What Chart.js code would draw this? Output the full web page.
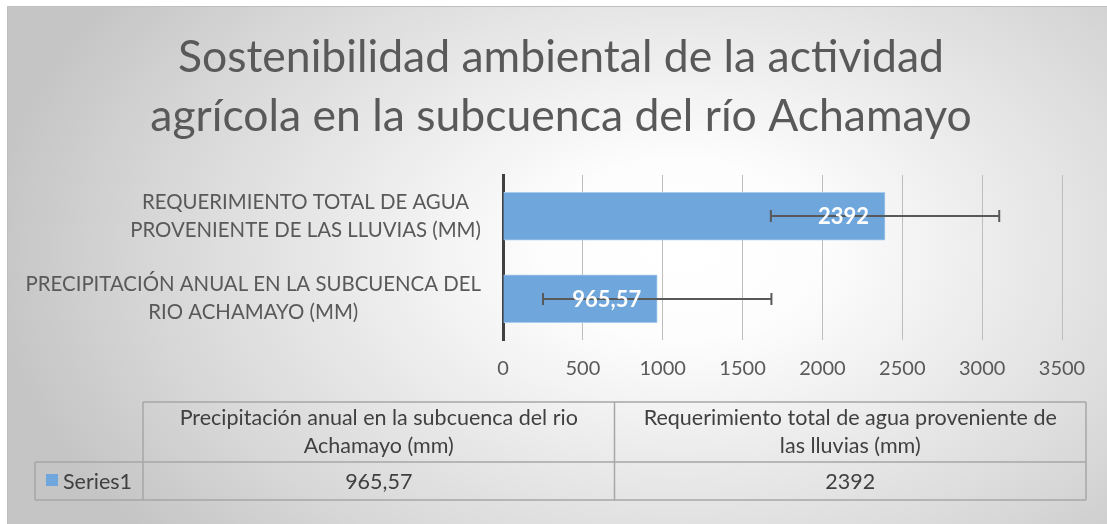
<!DOCTYPE html>
<html><head><meta charset="utf-8">
<script src="https://cdn.jsdelivr.net/npm/chart.js@4.4.1/dist/chart.umd.min.js"></script>
<style>html,body{margin:0;padding:0;background:#fff;overflow:hidden}#wrap{width:1107px;height:524px;position:relative}</style>
</head><body><div id="wrap"><canvas id="c" width="1107" height="524"></canvas></div>
<script>
const chartTitle = ['Sostenibilidad ambiental de la actividad', 'agrícola en la subcuenca del río Achamayo'];
const categories = ['Precipitación anual en la subcuenca del rio Achamayo (mm)', 'Requerimiento total de agua proveniente de las lluvias (mm)'];
const axisLabelLines = [['PRECIPITACIÓN ANUAL EN LA SUBCUENCA DEL', 'RIO ACHAMAYO (MM)'], ['REQUERIMIENTO TOTAL DE AGUA', 'PROVENIENTE DE LAS LLUVIAS (MM)']];
const tableHeaderLines = [['Precipitación anual en la subcuenca del rio', 'Achamayo (mm)'], ['Requerimiento total de agua proveniente de', 'las lluvias (mm)']];
const seriesName = 'Series1';
const values = [965.57, 2392];
const errorAmounts = [715, 715];
const xTicks = [0, 500, 1000, 1500, 2000, 2500, 3000, 3500];

const FONT = 'Lato';
const BAR_COLOR = '#6fa6dc';
const fmt = v => String(v).replace('.', ',');

const bgPlugin = {
  id: 'bg',
  beforeDraw(chart) {
    const ctx = chart.ctx, W = chart.width, H = chart.height;
    ctx.save();
    ctx.fillStyle = '#ffffff';
    ctx.fillRect(0, 0, W, H);
    ctx.save();
    ctx.translate(680, 250);
    ctx.scale(1, 0.65);
    const g = ctx.createRadialGradient(0, 0, 0, 0, 0, 690);
    g.addColorStop(0, '#ffffff');
    g.addColorStop(0.2, '#fdfdfd');
    g.addColorStop(0.75, '#d8d8d8');
    g.addColorStop(1, '#c5c5c5');
    ctx.fillStyle = g;
    ctx.fillRect(-700, -400, 1500, 1000);
    ctx.restore();
    ctx.fillStyle = '#ffffff';
    ctx.fillRect(0, 0, 7, H);
    ctx.fillRect(0, 0, W, 6);
    ctx.strokeStyle = '#bfbfbf';
    ctx.lineWidth = 1;
    ctx.beginPath();
    ctx.moveTo(7.5, H);
    ctx.lineTo(7.5, 6.5);
    ctx.lineTo(W, 6.5);
    ctx.stroke();
    ctx.restore();
  }
};

const titlePlugin = {
  id: 'titleText',
  afterDraw(chart) {
    const ctx = chart.ctx;
    ctx.save();
    ctx.font = '44.5px ' + FONT;
    ctx.fillStyle = '#595959';
    ctx.textAlign = 'center';
    ctx.textBaseline = 'middle';
    chartTitle.forEach((l, k) => ctx.fillText(l, 561, 58 + k * 59));
    ctx.restore();
  }
};

const axisLabelPlugin = {
  id: 'axisLabels',
  afterDraw(chart) {
    const ctx = chart.ctx, ys = chart.scales.y;
    ctx.save();
    ctx.font = '20.4px ' + FONT;
    ctx.fillStyle = '#595959';
    ctx.textAlign = 'center';
    ctx.textBaseline = 'middle';
    const lh = 28;
    const rightEdge = chart.chartArea.left - 22;
    axisLabelLines.forEach((lines, i) => {
      const cy = ys.getPixelForValue(i);
      const w = Math.max(...lines.map(l => ctx.measureText(l).width));
      const cx = rightEdge - w / 2;
      lines.forEach((l, k) => {
        ctx.fillText(l, cx, cy + (k - (lines.length - 1) / 2) * lh);
      });
    });
    ctx.restore();
  }
};

const errorLabelPlugin = {
  id: 'errLabels',
  afterDatasetsDraw(chart) {
    const ctx = chart.ctx, xs = chart.scales.x, ys = chart.scales.y;
    ctx.save();
    ctx.strokeStyle = '#595959';
    ctx.lineWidth = 2;
    values.forEach((v, i) => {
      const y = Math.round(ys.getPixelForValue(i));
      const x1 = xs.getPixelForValue(v - errorAmounts[i]);
      const x2 = xs.getPixelForValue(v + errorAmounts[i]);
      ctx.beginPath();
      ctx.moveTo(x1, y); ctx.lineTo(x2, y);
      ctx.moveTo(x1, y - 6); ctx.lineTo(x1, y + 6);
      ctx.moveTo(x2, y - 6); ctx.lineTo(x2, y + 6);
      ctx.stroke();
    });
    ctx.font = 'bold 22px ' + FONT;
    ctx.fillStyle = '#ffffff';
    ctx.textAlign = 'right';
    ctx.textBaseline = 'middle';
    values.forEach((v, i) => {
      const y = ys.getPixelForValue(i);
      const x = xs.getPixelForValue(v) - 16;
      ctx.fillText(fmt(v), x, y + 1);
    });
    ctx.restore();
  }
};

const tablePlugin = {
  id: 'dataTable',
  afterDraw(chart) {
    const ctx = chart.ctx;
    const top = 402, mid = 462, bot = 500;
    const rowHeadLeft = 35, left = 143, right = 1086;
    const n = categories.length;
    const colW = (right - left) / n;
    ctx.save();
    ctx.strokeStyle = '#a6a6a6';
    ctx.lineWidth = 1.5;
    ctx.beginPath();
    ctx.moveTo(left, top); ctx.lineTo(right, top);
    ctx.moveTo(rowHeadLeft, mid); ctx.lineTo(right, mid);
    ctx.moveTo(rowHeadLeft, bot); ctx.lineTo(right, bot);
    ctx.moveTo(rowHeadLeft, mid); ctx.lineTo(rowHeadLeft, bot);
    for (let i = 0; i <= n; i++) {
      const x = left + i * colW;
      ctx.moveTo(x, top); ctx.lineTo(x, bot);
    }
    ctx.stroke();
    ctx.font = '21.5px ' + FONT;
    ctx.fillStyle = '#404040';
    ctx.textAlign = 'center';
    ctx.textBaseline = 'middle';
    const lh = 28;
    tableHeaderLines.forEach((lines, i) => {
      const cx = left + (i + 0.5) * colW;
      const cy = (top + mid) / 2;
      lines.forEach((l, k) => ctx.fillText(l, cx, cy + (k - (lines.length - 1) / 2) * lh));
    });
    values.forEach((v, i) => {
      const cx = left + (i + 0.5) * colW;
      ctx.fillText(fmt(v), cx, (mid + bot) / 2 + 1);
    });
    ctx.fillStyle = BAR_COLOR;
    ctx.fillRect(46, 474, 12, 12);
    ctx.fillStyle = '#404040';
    ctx.textAlign = 'left';
    ctx.fillText(seriesName, 63, (mid + bot) / 2 + 1);
    ctx.restore();
  }
};

new Chart(document.getElementById('c'), {
  type: 'bar',
  data: {
    labels: categories,
    datasets: [{
      label: seriesName,
      data: values,
      backgroundColor: BAR_COLOR,
      borderColor: '#a9cbeb',
      borderWidth: 1,
      barThickness: 48
    }]
  },
  options: {
    indexAxis: 'y',
    responsive: false,
    animation: false,
    devicePixelRatio: 1,
    layout: { padding: { left: 0, right: 45, top: 175, bottom: 134 } },
    plugins: {
      legend: { display: false },
      tooltip: { enabled: false },
      title: { display: false }
    },
    scales: {
      y: {
        type: 'category',
        reverse: true,
        offset: true,
        grid: { display: false },
        border: { display: true, color: '#404040', width: 3 },
        ticks: { display: false },
        afterFit: s => { s.width = 503; }
      },
      x: {
        type: 'linear',
        min: 0,
        max: 3500,
        afterBuildTicks: s => { s.ticks = xTicks.map(v => ({ value: v })); },
        grid: { color: '#bdbdbd', lineWidth: 1, drawTicks: false },
        border: { display: false },
        ticks: { font: { family: FONT, size: 20 }, color: '#595959', padding: 17, callback: v => String(v) },
        afterFit: s => { s.height = 50; }
      }
    }
  },
  plugins: [bgPlugin, titlePlugin, axisLabelPlugin, errorLabelPlugin, tablePlugin]
});
</script>
</body></html>
